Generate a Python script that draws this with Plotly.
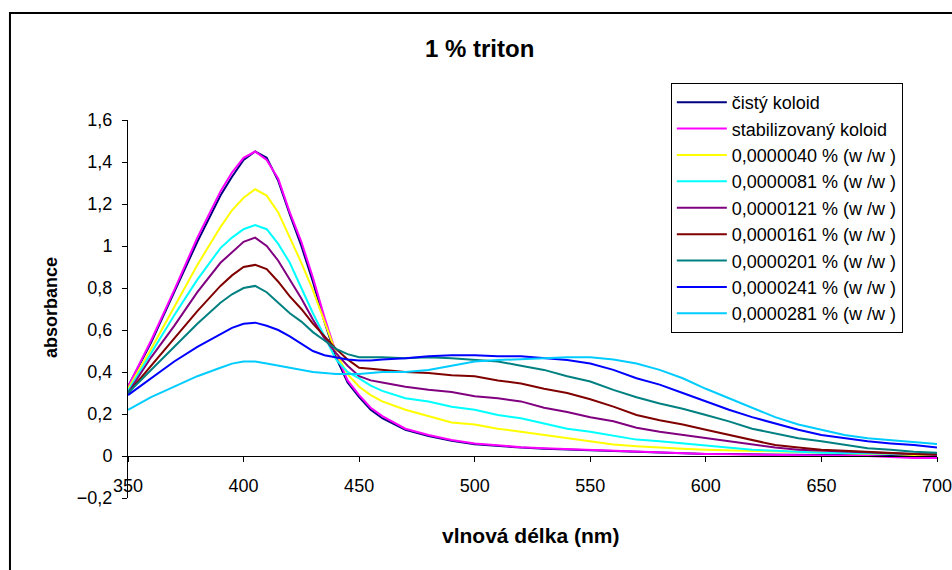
import plotly.graph_objects as go

wavelength = [350, 360, 370, 380, 390, 395, 400, 405, 410, 415, 420, 425, 430, 435, 440, 445, 450, 455, 460, 470,
              480, 490, 500, 510, 520, 530, 540, 550, 560, 570, 580, 590, 600, 610, 620, 630, 640, 650,
              660, 670, 680, 690, 700]

clean = [0.33, 0.54, 0.78, 1.02, 1.24, 1.33, 1.41, 1.45, 1.42, 1.31, 1.15, 1.00, 0.83, 0.64, 0.47, 0.35, 0.28, 0.22, 0.18, 0.125,
         0.095, 0.072, 0.056, 0.047, 0.040, 0.035, 0.031, 0.028, 0.023, 0.019, 0.015, 0.012, 0.010, 0.009, 0.008, 0.007, 0.006, 0.005,
         0.004, 0.003, 0.002, 0.001, 0.0]
stabilized = [0.33, 0.55, 0.79, 1.04, 1.26, 1.35, 1.42, 1.45, 1.41, 1.32, 1.16, 1.02, 0.85, 0.66, 0.49, 0.36, 0.29, 0.23, 0.19, 0.13,
              0.10, 0.076, 0.06, 0.05, 0.042, 0.037, 0.033, 0.03, 0.025, 0.02, 0.015, 0.012, 0.01, 0.008, 0.007, 0.005, 0.005, 0.004,
              0.003, 0.0, -0.005, -0.01, -0.01]
c0040 = [0.32, 0.51, 0.71, 0.91, 1.09, 1.17, 1.23, 1.27, 1.24, 1.16, 1.04, 0.92, 0.79, 0.64, 0.49, 0.39, 0.33, 0.29, 0.26, 0.22,
         0.19, 0.16, 0.15, 0.13, 0.115, 0.10, 0.085, 0.07, 0.055, 0.047, 0.04, 0.035, 0.03, 0.027, 0.025, 0.022, 0.02, 0.016,
         0.013, 0.011, 0.01, 0.005, 0.0]
c0081 = [0.31, 0.49, 0.67, 0.84, 0.99, 1.04, 1.08, 1.10, 1.08, 1.01, 0.92, 0.80, 0.68, 0.57, 0.46, 0.40, 0.37, 0.335, 0.31, 0.275,
         0.26, 0.235, 0.22, 0.195, 0.18, 0.155, 0.13, 0.115, 0.095, 0.078, 0.07, 0.06, 0.052, 0.04, 0.03, 0.025, 0.02, 0.016,
         0.014, 0.012, 0.011, 0.01, 0.01]
c0121 = [0.30, 0.47, 0.62, 0.78, 0.92, 0.97, 1.02, 1.04, 1.00, 0.93, 0.84, 0.75, 0.65, 0.56, 0.49, 0.43, 0.38, 0.36, 0.35, 0.33,
         0.315, 0.305, 0.285, 0.275, 0.26, 0.23, 0.21, 0.185, 0.165, 0.135, 0.115, 0.10, 0.085, 0.07, 0.052, 0.04, 0.03, 0.025,
         0.02, 0.016, 0.013, 0.01, 0.005]
c0161 = [0.30, 0.43, 0.56, 0.69, 0.81, 0.86, 0.90, 0.91, 0.89, 0.83, 0.76, 0.70, 0.63, 0.57, 0.51, 0.46, 0.42, 0.415, 0.41, 0.40,
         0.395, 0.385, 0.38, 0.36, 0.345, 0.32, 0.30, 0.27, 0.235, 0.195, 0.17, 0.15, 0.125, 0.10, 0.076, 0.052, 0.04, 0.03,
         0.025, 0.02, 0.013, 0.01, 0.008]
c0201 = [0.30, 0.41, 0.52, 0.63, 0.73, 0.77, 0.80, 0.81, 0.78, 0.73, 0.68, 0.64, 0.59, 0.55, 0.51, 0.485, 0.47, 0.47, 0.47, 0.465,
         0.47, 0.465, 0.457, 0.45, 0.43, 0.41, 0.38, 0.355, 0.315, 0.28, 0.25, 0.225, 0.195, 0.165, 0.13, 0.108, 0.085, 0.07,
         0.052, 0.037, 0.03, 0.02, 0.016]
c0241 = [0.29, 0.37, 0.45, 0.52, 0.58, 0.61, 0.63, 0.635, 0.62, 0.60, 0.57, 0.535, 0.50, 0.48, 0.47, 0.46, 0.455, 0.455, 0.46, 0.465,
         0.475, 0.48, 0.48, 0.475, 0.475, 0.465, 0.457, 0.44, 0.41, 0.37, 0.34, 0.30, 0.26, 0.22, 0.185, 0.155, 0.125, 0.10,
         0.085, 0.07, 0.06, 0.052, 0.04]
c0281 = [0.22, 0.28, 0.33, 0.38, 0.42, 0.44, 0.45, 0.45, 0.44, 0.43, 0.42, 0.41, 0.40, 0.395, 0.39, 0.39, 0.39, 0.395, 0.40, 0.40,
         0.41, 0.43, 0.45, 0.457, 0.46, 0.465, 0.47, 0.47, 0.46, 0.44, 0.41, 0.37, 0.32, 0.275, 0.23, 0.185, 0.15, 0.125,
         0.10, 0.085, 0.075, 0.065, 0.057]

series_names = ["čistý koloid", "stabilizovaný koloid",
                "0,0000040 % (w /w )", "0,0000081 % (w /w )", "0,0000121 % (w /w )",
                "0,0000161 % (w /w )", "0,0000201 % (w /w )", "0,0000241 % (w /w )",
                "0,0000281 % (w /w )"]
series_values = [clean, stabilized, c0040, c0081, c0121, c0161, c0201, c0241, c0281]
series_colors = ["#000080", "#FF00FF", "#FFFF00", "#00FFFF", "#800080",
                 "#800000", "#008080", "#0000FF", "#00CCFF"]

x_ticks = [350, 400, 450, 500, 550, 600, 650, 700]

FONT = "Arial, Liberation Sans, sans-serif"

fig = go.Figure()
for i, (name, vals, col) in enumerate(zip(series_names, series_values, series_colors)):
    fig.add_trace(go.Scatter(x=wavelength, y=vals, mode="lines", name=name,
                             legendgroup=f"g{i}",
                             line=dict(color=col, width=2)))

fig.update_layout(
    width=952, height=570,
    margin=dict(l=128, r=15, t=120, b=72, autoexpand=False),
    paper_bgcolor="white", plot_bgcolor="white",
    separators=", ",
    font=dict(family=FONT, size=18, color="black"),
    showlegend=True,
    legend=dict(x=0.671, y=1.098, xanchor="left", yanchor="top",
                bgcolor="white", bordercolor="black", borderwidth=1,
                font=dict(family=FONT, size=18, color="black"),
                tracegroupgap=0, itemwidth=50),
    xaxis=dict(range=[350, 700.001], tickvals=x_ticks, ticktext=[str(v) for v in x_ticks],
               anchor="free", position=0.1111, automargin=False,
               showline=True, linecolor="black", linewidth=1,
               ticks="outside", ticklen=5, tickcolor="black",
               ticklabelstandoff=8, ticklabeloverflow="allow",
               showgrid=False, zeroline=False,
               tickfont=dict(family=FONT, size=18, color="black")),
    yaxis=dict(range=[-0.2, 1.6], dtick=0.2, tick0=0, automargin=False,
               showline=True, linecolor="black", linewidth=1,
               ticks="outside", ticklen=5, tickcolor="black",
               ticklabelstandoff=6,
               showgrid=False, zeroline=False,
               tickfont=dict(family=FONT, size=18, color="black")),
    annotations=[
        dict(text="<b>1 % triton</b>", xref="paper", yref="paper", x=0.434, y=1.19,
             xanchor="center", yanchor="middle", showarrow=False,
             font=dict(family=FONT, size=24, color="black")),
        dict(text="<b>absorbance</b>", xref="paper", yref="paper", x=-0.0952, y=0.505,
             xanchor="center", yanchor="middle", showarrow=False, textangle=-90,
             font=dict(family=FONT, size=18, color="black")),
        dict(text="<b>vlnová délka (nm)</b>", xref="paper", yref="paper", x=0.497, y=-0.1005,
             xanchor="center", yanchor="middle", showarrow=False,
             font=dict(family=FONT, size=21, color="black")),
    ],
    shapes=[
        dict(type="rect", xref="paper", yref="paper", x0=-0.1459, x1=1.05, y0=-0.25, y1=1.283,
             line=dict(color="black", width=2), fillcolor="rgba(0,0,0,0)", layer="below"),
    ],
)

fig.write_html("out.html")
